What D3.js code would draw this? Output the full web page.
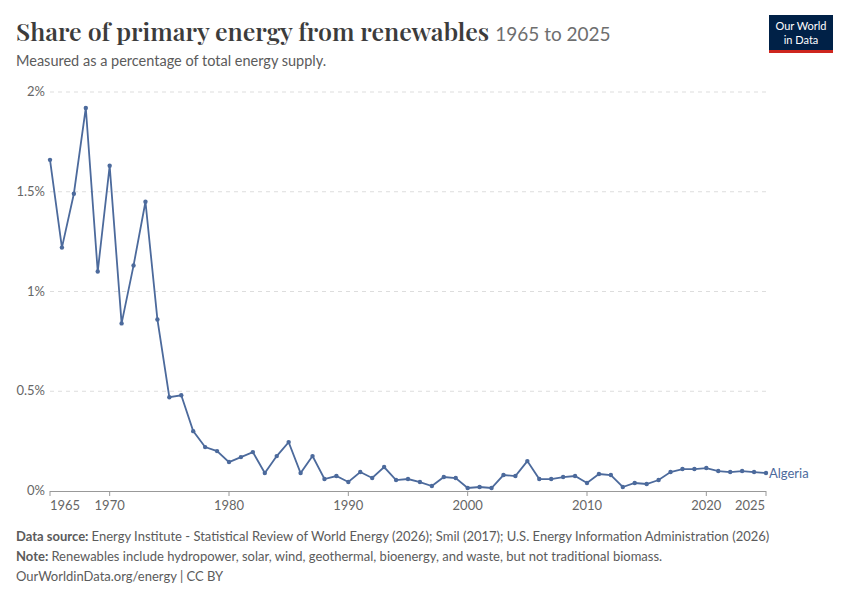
<!DOCTYPE html>
<html><head><meta charset="utf-8">
<script src="https://cdn.jsdelivr.net/npm/d3@7"></script>
<style>
body{margin:0;background:#fff;font-family:Lato,"Noto Sans",sans-serif}
</style></head><body>
<svg id="c" width="850" height="600"></svg>
<script>
const years = d3.range(1965, 2026);
const shares = [1.66,1.22,1.49,1.92,1.10,1.63,0.84,1.13,1.45,0.86,
  0.47,0.48,0.30,0.22,0.20,0.145,0.17,0.195,0.09,0.175,
  0.245,0.09,0.175,0.06,0.075,0.045,0.095,0.065,0.12,0.055,
  0.06,0.045,0.025,0.07,0.065,0.015,0.02,0.015,0.08,0.075,
  0.15,0.06,0.06,0.07,0.075,0.04,0.085,0.08,0.02,0.04,
  0.035,0.055,0.095,0.11,0.11,0.115,0.1,0.095,0.1,0.095,0.09];
const yTicks = [0, 0.5, 1, 1.5, 2];
const yTickLabels = ["0%", "0.5%", "1%", "1.5%", "2%"];
const xTicks = [1965, 1970, 1980, 1990, 2000, 2010, 2020, 2025];

const svg = d3.select('#c');
const x = d3.scaleLinear().domain([1965, 2025]).range([50, 766]);
const y = d3.scaleLinear().domain([0, 2]).range([491, 92]);
const col = '#4c6a9c';

// title
svg.append('text').attr('x', 16).attr('y', 41)
  .style('font-family', '"Playfair Display",Georgia,"DejaVu Serif",serif')
  .style('font-size', '25px').style('fill', '#3c3c3c').style('font-weight', 600)
  .text('Share of primary energy from renewables')
  .append('tspan').style('font-family', 'Lato,sans-serif').style('font-weight', 400)
  .style('font-size', '19px').style('fill', '#6e6e6e').attr('dx', 6).text('1965 to 2025');
svg.append('text').attr('x', 16).attr('y', 66).style('font-size', '14.5px').style('fill', '#5b5b5b')
  .text('Measured as a percentage of total energy supply.');

// logo
svg.append('rect').attr('x', 769).attr('y', 15).attr('width', 64).attr('height', 35).attr('fill', '#002147');
svg.append('rect').attr('x', 769).attr('y', 50).attr('width', 64).attr('height', 3).attr('fill', '#ce261e');
svg.append('text').attr('x', 801).attr('y', 30).attr('text-anchor', 'middle').style('font-size', '11px').style('fill', '#fff').text('Our World');
svg.append('text').attr('x', 801).attr('y', 44).attr('text-anchor', 'middle').style('font-size', '11px').style('fill', '#fff').text('in Data');

// grid + y labels
yTicks.forEach((t, i) => {
  if (t > 0) svg.append('line').attr('x1', 50).attr('x2', 766).attr('y1', y(t)).attr('y2', y(t))
    .attr('stroke', '#dddddd').attr('stroke-dasharray', '4,4');
  svg.append('text').attr('x', 45).attr('y', y(t) + 4).attr('text-anchor', 'end')
    .style('font-size', '13px').style('fill', '#666').text(yTickLabels[i]);
});

// x axis
svg.append('line').attr('x1', 50).attr('x2', 766).attr('y1', 491.5).attr('y2', 491.5).attr('stroke', '#999');
xTicks.forEach(t => {
  svg.append('line').attr('x1', x(t)).attr('x2', x(t)).attr('y1', 491).attr('y2', 496).attr('stroke', '#999');
  let lx = x(t);
  if (t === 1965) lx += 15;
  if (t === 2025) lx -= 16;
  svg.append('text').attr('x', lx).attr('y', 510).attr('text-anchor', 'middle')
    .style('font-size', '13px').style('fill', '#666').text(t);
});

// line
const pts = years.map((yr, i) => [yr, shares[i]]);
svg.append('path').datum(pts).attr('fill', 'none').attr('stroke', col).attr('stroke-width', 1.8)
  .attr('d', d3.line().x(d => x(d[0])).y(d => y(d[1])));
svg.selectAll('circle').data(pts).enter().append('circle')
  .attr('cx', d => x(d[0])).attr('cy', d => y(d[1])).attr('r', 2.2).attr('fill', col);
svg.append('text').attr('x', 769).attr('y', y(0.09) + 5).style('font-size', '13px').style('fill', col).text('Algeria');

// footer
const f = svg.append('g').style('font-size', '13px').style('fill', '#5b5b5b');
const t1 = f.append('text').attr('x', 16).attr('y', 541);
t1.append('tspan').style('font-weight', 700).text('Data source: ');
t1.append('tspan').text('Energy Institute - Statistical Review of World Energy (2026); Smil (2017); U.S. Energy Information Administration (2026)');
const t2 = f.append('text').attr('x', 16).attr('y', 561);
t2.append('tspan').style('font-weight', 700).text('Note: ');
t2.append('tspan').text('Renewables include hydropower, solar, wind, geothermal, bioenergy, and waste, but not traditional biomass.');
f.append('text').attr('x', 16).attr('y', 581).text('OurWorldinData.org/energy | CC BY');
</script></body></html>
